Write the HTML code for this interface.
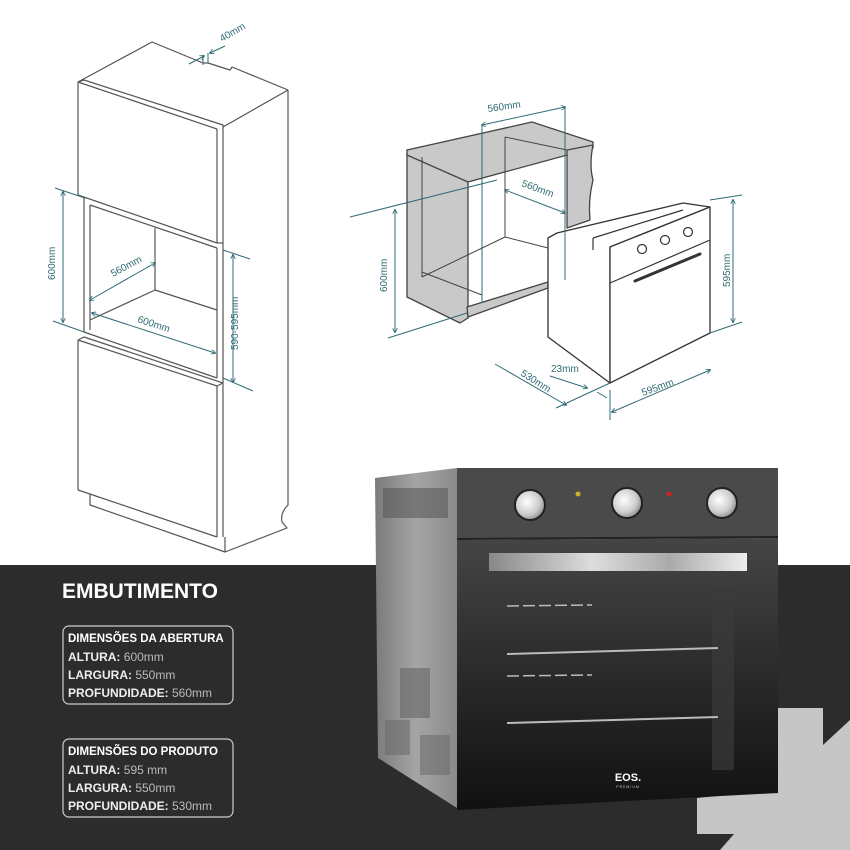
<!DOCTYPE html>
<html><head><meta charset="utf-8"><style>
html,body{margin:0;padding:0;background:#fff;}
svg{display:block;}
text{font-family:"Liberation Sans",sans-serif;}
</style></head><body>
<svg width="850" height="850" viewBox="0 0 850 850" xmlns="http://www.w3.org/2000/svg">
<defs>
<linearGradient id="door" x1="0" y1="0" x2="0" y2="1"><stop offset="0" stop-color="#454545"/><stop offset="0.5" stop-color="#2a2a2a"/><stop offset="1" stop-color="#111"/></linearGradient>
<linearGradient id="side" x1="0" y1="0" x2="1" y2="0"><stop offset="0" stop-color="#7a7a7a"/><stop offset="0.5" stop-color="#a5a5a5"/><stop offset="1" stop-color="#8a8a8a"/></linearGradient>
<linearGradient id="handle" x1="0" y1="0" x2="1" y2="0"><stop offset="0" stop-color="#888"/><stop offset="0.4" stop-color="#ddd"/><stop offset="0.7" stop-color="#aaa"/><stop offset="1" stop-color="#eee"/></linearGradient>
<radialGradient id="knob" cx="0.4" cy="0.4" r="0.7"><stop offset="0" stop-color="#fff"/><stop offset="0.6" stop-color="#ccc"/><stop offset="1" stop-color="#777"/></radialGradient>
<marker id="ar" viewBox="0 0 6 6" refX="5" refY="3" markerWidth="5" markerHeight="5" orient="auto-start-reverse"><path d="M0,0 L6,3 L0,6" fill="none" stroke="#2f6b74" stroke-width="1"/></marker>
</defs>

<rect x="0" y="565" width="850" height="285" fill="#2d2c2d"/>
<polygon points="778,708 823,708 823,745 850,720 850,850 720,850 734,834 697,834 697,798 778,790" fill="#c6c6c6"/>

<!-- LEFT CABINET DRAWING -->
<g fill="none" stroke="#555" stroke-width="1.2" stroke-linejoin="round">
<polyline points="78,82 152,42 203,63 208,63 230,70 232,67 288,90"/>
<polyline points="78,82 84,80 223,125 223,127"/>
<line x1="78" y1="82" x2="217" y2="129"/>
<line x1="223" y1="127" x2="288" y2="90"/>
<line x1="78" y1="82" x2="78" y2="195"/>
<line x1="217" y1="129" x2="217" y2="243"/>
<line x1="223" y1="127" x2="223" y2="243"/>
<line x1="78" y1="195" x2="217" y2="243"/>
<line x1="217" y1="243" x2="223" y2="243"/>
<polyline points="84,198 84,332"/>
<polyline points="90,205 217,248"/>
<line x1="90" y1="205" x2="90" y2="330"/>
<line x1="155" y1="228" x2="155" y2="290"/>
<line x1="90" y1="320" x2="155" y2="290"/>
<line x1="155" y1="290" x2="217" y2="310"/>
<line x1="217" y1="248" x2="217" y2="378"/>
<line x1="223" y1="243" x2="223" y2="385"/>
<line x1="84" y1="332" x2="217" y2="378"/>
<polyline points="78,340 84,337 223,383"/>
<line x1="78" y1="340" x2="217" y2="386"/>
<line x1="217" y1="386" x2="223" y2="383"/>
<line x1="78" y1="340" x2="78" y2="490"/>
<line x1="217" y1="386" x2="217" y2="537"/>
<line x1="223" y1="385" x2="223" y2="537"/>
<line x1="78" y1="490" x2="217" y2="537"/>
<polyline points="90,494 90,505 225,552 225,537"/>
<path d="M288,90 L288,505 q-8,8 -6,17 l5,6 L225,552"/>
</g>
<g stroke="#2f6b74" stroke-width="1" fill="none">
<line x1="55" y1="188" x2="85" y2="198"/>
<line x1="53" y1="321" x2="84" y2="332"/>
<line x1="63" y1="192" x2="63" y2="322" marker-start="url(#ar)" marker-end="url(#ar)"/>
<line x1="223" y1="250" x2="250" y2="259"/>
<line x1="223" y1="378" x2="253" y2="391"/>
<line x1="233" y1="255" x2="233" y2="382" marker-start="url(#ar)" marker-end="url(#ar)"/>
<line x1="90" y1="300" x2="155" y2="263" marker-start="url(#ar)" marker-end="url(#ar)"/>
<line x1="92" y1="313" x2="215" y2="353" marker-start="url(#ar)" marker-end="url(#ar)"/>
<line x1="189" y1="64" x2="204" y2="56" marker-end="url(#ar)"/>
<line x1="225" y1="46" x2="210" y2="53" marker-end="url(#ar)"/>
<line x1="203" y1="55" x2="203" y2="65"/>
<line x1="208" y1="53" x2="208" y2="63"/>
</g>
<g fill="#2f6b74" font-size="10">
<text transform="translate(55,280) rotate(-90)">600mm</text>
<text transform="translate(113,277) rotate(-28)">560mm</text>
<text transform="translate(137,322) rotate(18)">600mm</text>
<text transform="translate(238,350) rotate(-90)">590-595mm</text>
<text transform="translate(222,42) rotate(-30)">40mm</text>
</g>

<!-- MIDDLE DRAWING -->
<g stroke="#444" stroke-width="1.3" fill="#c9c9c9" stroke-linejoin="round">
<polygon points="407,150 468,178 468,318 460,323 407,297"/>
<polygon points="407,150 532,122 593,142 593,148 468,182 407,155"/>
<path d="M567,150 L593,145 q-4,20 0,35 q-5,20 -3,40 L567,228 Z"/>
<polygon points="467,307 548,282 548,288 468,317"/>
</g>
<g stroke="#444" stroke-width="1" fill="none">
<line x1="422" y1="157" x2="422" y2="277"/>
<line x1="482" y1="176" x2="482" y2="303"/>
<line x1="505" y1="137" x2="505" y2="237"/>
<line x1="505" y1="137" x2="567" y2="150"/>
<line x1="422" y1="277" x2="505" y2="237"/>
<line x1="505" y1="237" x2="548" y2="248"/>
<line x1="422" y1="272" x2="482" y2="295"/>
</g>
<g stroke="#333" stroke-width="1.3" fill="#fff" stroke-linejoin="round">
<polygon points="548,238 557,233 683,203 710,207 610,247 610,383 548,337"/>
<polygon points="610,247 710,207 710,333 610,383"/>
</g>
<g stroke="#333" stroke-width="1.2" fill="none">
<line x1="610" y1="283" x2="710" y2="240"/>
<line x1="593" y1="238" x2="683" y2="210"/>
<line x1="593" y1="238" x2="593" y2="250"/>
<circle cx="642" cy="249" r="4.5"/><circle cx="665" cy="240" r="4.5"/><circle cx="688" cy="232" r="4.5"/>
<line x1="635" y1="281" x2="700" y2="254" stroke-width="3" stroke-linecap="round"/>
</g>
<g stroke="#2f6b74" stroke-width="1" fill="none">
<line x1="350" y1="217" x2="497" y2="180"/>
<line x1="388" y1="338" x2="467" y2="313"/>
<line x1="395" y1="210" x2="395" y2="332" marker-start="url(#ar)" marker-end="url(#ar)"/>
<line x1="482" y1="125" x2="482" y2="303"/>
<line x1="565" y1="107" x2="565" y2="280"/>
<line x1="482" y1="125" x2="565" y2="107" marker-start="url(#ar)" marker-end="url(#ar)"/>
<line x1="505" y1="190" x2="565" y2="213" marker-start="url(#ar)" marker-end="url(#ar)"/>
<line x1="710" y1="200" x2="742" y2="195"/>
<line x1="710" y1="333" x2="742" y2="322"/>
<line x1="733" y1="200" x2="733" y2="322" marker-start="url(#ar)" marker-end="url(#ar)"/>
<line x1="495" y1="364" x2="566" y2="405" marker-end="url(#ar)"/>
<line x1="556" y1="408" x2="610" y2="383"/>
<line x1="550" y1="376" x2="587" y2="388" marker-end="url(#ar)"/>
<line x1="597" y1="392" x2="607" y2="398"/>
<line x1="610" y1="390" x2="610" y2="420"/>
<line x1="612" y1="412" x2="710" y2="370" marker-start="url(#ar)" marker-end="url(#ar)"/>
</g>
<g fill="#2f6b74" font-size="10">
<text transform="translate(488,112) rotate(-8)">560mm</text>
<text transform="translate(521,186) rotate(20)">560mm</text>
<text transform="translate(387,292) rotate(-90)">600mm</text>
<text transform="translate(730,287) rotate(-90)">595mm</text>
<text transform="translate(520,375) rotate(32)">530mm</text>
<text transform="translate(551,372)">23mm</text>
<text transform="translate(643,396) rotate(-20)">595mm</text>
</g>

<!-- OVEN PHOTO -->
<polygon points="375,478 457,468 457,808 378,758" fill="url(#side)"/>
<rect x="383" y="488" width="65" height="30" fill="#5a5a5a" opacity="0.6"/>
<rect x="400" y="668" width="30" height="50" fill="#666" opacity="0.6"/>
<rect x="385" y="720" width="25" height="35" fill="#666" opacity="0.5"/>
<rect x="420" y="735" width="30" height="40" fill="#666" opacity="0.5"/>
<polygon points="457,468 778,468 778,538 457,540" fill="#4a4a4a"/>
<polygon points="457,540 778,538 778,793 457,810" fill="url(#door)"/>
<line x1="457" y1="539" x2="778" y2="537" stroke="#222" stroke-width="2"/>
<rect x="489" y="553" width="258" height="18" fill="url(#handle)"/>
<rect x="712" y="590" width="22" height="180" fill="#3a3a3a" opacity="0.7"/>
<g stroke="#bbb" stroke-width="2">
<line x1="507" y1="654" x2="718" y2="648"/>
<line x1="507" y1="723" x2="718" y2="717"/>
<line x1="507" y1="606" x2="592" y2="605" stroke-dasharray="12,4" stroke-width="1.5"/>
<line x1="507" y1="676" x2="592" y2="675" stroke-dasharray="12,4" stroke-width="1.5"/>
</g>
<circle cx="530" cy="505" r="15" fill="url(#knob)" stroke="#222" stroke-width="2"/>
<circle cx="627" cy="503" r="15" fill="url(#knob)" stroke="#222" stroke-width="2"/>
<circle cx="722" cy="503" r="15" fill="url(#knob)" stroke="#222" stroke-width="2"/>
<circle cx="578" cy="494" r="2.5" fill="#c9b030"/>
<circle cx="669" cy="494" r="2.5" fill="#d02020"/>
<text x="628" y="781" fill="#fff" font-size="11" font-weight="bold" text-anchor="middle">EOS.</text>
<text x="628" y="788" fill="#ccc" font-size="3.5" text-anchor="middle" letter-spacing="1">PREMIUM</text>

<!-- TEXT PANEL -->
<text x="62" y="598" fill="#fff" font-size="21" font-weight="bold">EMBUTIMENTO</text>
<rect x="63" y="626" width="170" height="78" rx="6" fill="none" stroke="#ccc" stroke-width="1.2"/>
<text x="68" y="642" fill="#fff" font-size="11.5" font-weight="bold">DIMENSÕES DA ABERTURA</text>
<text x="68" y="661" fill="#eee" font-size="12"><tspan font-weight="bold">ALTURA:</tspan><tspan fill="#bbb"> 600mm</tspan></text>
<text x="68" y="679" fill="#eee" font-size="12"><tspan font-weight="bold">LARGURA:</tspan><tspan fill="#bbb"> 550mm</tspan></text>
<text x="68" y="697" fill="#eee" font-size="12"><tspan font-weight="bold">PROFUNDIDADE:</tspan><tspan fill="#bbb"> 560mm</tspan></text>
<rect x="63" y="739" width="170" height="78" rx="6" fill="none" stroke="#ccc" stroke-width="1.2"/>
<text x="68" y="755" fill="#fff" font-size="11.5" font-weight="bold">DIMENSÕES DO PRODUTO</text>
<text x="68" y="774" fill="#eee" font-size="12"><tspan font-weight="bold">ALTURA:</tspan><tspan fill="#bbb"> 595 mm</tspan></text>
<text x="68" y="792" fill="#eee" font-size="12"><tspan font-weight="bold">LARGURA:</tspan><tspan fill="#bbb"> 550mm</tspan></text>
<text x="68" y="810" fill="#eee" font-size="12"><tspan font-weight="bold">PROFUNDIDADE:</tspan><tspan fill="#bbb"> 530mm</tspan></text>
</svg>
</body></html>
